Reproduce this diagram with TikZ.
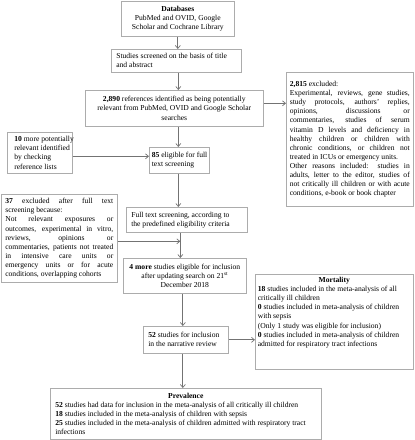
\documentclass[tikz,border=0pt]{standalone}
\usepackage{fontspec}
\setmainfont{Liberation Serif}
\usetikzlibrary{arrows.meta,shadows}
\tikzset{
  box/.style={draw=gray!65, fill=white, line width=0.6pt, inner xsep=5pt, inner ysep=0pt, anchor=north west,
    drop shadow={shadow xshift=0.8pt, shadow yshift=-0.8pt, fill=gray!35}},
  arr/.style={draw=gray!90!black, line width=0.7pt, -{Straight Barb[length=3pt,width=5pt]}},
}
\newcommand\txt{\fontsize{7.6}{9.1}\selectfont\hyphenpenalty=10000\exhyphenpenalty=10000\hbadness=10000\hfuzz=6pt}
\newcommand\pb[4]{\parbox[c][#1pt][#2]{#3pt}{\txt #4}}
\newcommand\jl{\linebreak}
\begin{document}
\begin{tikzpicture}[x=1pt,y=1pt]
\useasboundingbox (0,0) rectangle (415,-440);
\node[box] (db) at (121,-0.5) {\pb{35.5}{c}{103}{\centering\textbf{Databases}\\PubMed and OVID, Google\\Scholar and Cochrane Library}};
\node[box] (scr) at (111,-49) {\pb{23}{c}{120}{\raggedright Studies screened on the basis of title\\and abstract}};
\node[box] (ref) at (85,-90) {\pb{36}{c}{168}{\centering\textbf{2,890} references identified as being potentially\\relevant from PubMed, OVID and Google Scholar\\searches}};
\node[box, inner xsep=3.5pt] (exc) at (286,-72) {\pb{134}{c}{120}{\spaceskip=0.25em plus 2em minus 0.1em\textbf{2,815} excluded:\\
Experimental, reviews, gene studies,\jl study protocols, authors' replies,\jl opinions, discussions or\jl commentaries, studies of serum\jl vitamin D levels and deficiency in\jl healthy children or children with\jl chronic conditions, or children not\jl treated in ICUs or emergency units.\\
Other reasons included: studies in\jl adults, letter to the editor, studies of\jl not critically ill children or with acute\jl conditions, e-book or book chapter}};
\node[box, inner xsep=0pt] (ten) at (7,-132) {\pb{41}{c}{65}{\raggedright
\mbox{\hspace{7pt}\textbf{10} more potentially}\\
\mbox{\hspace{7pt}relevant identified}\\
\mbox{\hspace{7pt}by checking}\\
\mbox{\hspace{7pt}reference lists}}};
\node[box, inner xsep=2.5pt] (e85) at (149,-147) {\pb{26}{c}{55}{\raggedright\mbox{\textbf{85} eligible for full}\\text screening}};
\node[box, inner xsep=4pt] (ex37) at (1,-194) {\pb{88}{c}{108}{\spaceskip=0.25em plus 2em minus 0.1em\textbf{37} excluded after full text\jl screening because:\\
Not relevant exposures or\jl outcomes, experimental in vitro,\jl reviews, opinions or\jl commentaries, patients not treated\jl in intensive care units or\jl emergency units or for acute\jl conditions, overlapping cohorts}};
\node[box] (full) at (126,-207) {\pb{25}{c}{111}{\raggedright Full text screening, according to\\the predefined eligibility criteria}};
\node[box] (four) at (123,-258) {\pb{35}{c}{113}{\centering\textbf{4 more} studies eligible for inclusion\\after updating search on 21\textsuperscript{st}\\December 2018}};
\node[box] (f52) at (143,-326) {\pb{27}{c}{75}{\raggedright\textbf{52} studies for inclusion\\in the narrative review}};
\node[box, inner xsep=2.5pt] (mort) at (255,-274) {\pb{95}{t}{153}{\vspace{3pt}\raggedright\centerline{\textbf{Mortality}}
\textbf{18} studies included in the meta-analysis of all\\critically ill children\\
\textbf{0} studies included in meta-analysis of children\\with sepsis\\
(Only 1 study was eligible for inclusion)\\
\textbf{0} studies included in meta-analysis of children\\admitted for respiratory tract infections}};
\node[box] (prev) at (50,-388) {\pb{51}{c}{261}{\raggedright\centerline{\textbf{Prevalence}}
\textbf{52} studies had data for inclusion in the meta-analysis of all critically ill children\\
\textbf{18} studies included in the meta-analysis of children with sepsis\\
\textbf{25} studies included in the meta-analysis of children admitted with respiratory tract\\infections}};
% connectors
\draw[arr] (db.south) -- (db.south |- scr.north);
\draw[arr] ([xshift=2pt]scr.south) -- ([xshift=2pt]scr.south |- ref.north);
\draw[arr] ([yshift=5pt]ref.east) -- ([yshift=5pt]ref.east -| exc.west);
\draw[arr] ([xshift=4pt]ref.south) -- ([xshift=4pt]ref.south |- e85.north);
\draw[arr] ([yshift=-3.5pt]ten.east) -- ([yshift=-3.5pt]ten.east -| e85.west);
\draw[arr] ([xshift=-1pt]e85.south) -- ([xshift=-1pt]e85.south |- full.north);
\coordinate (ax) at ([xshift=-6.5pt]full.south);
\draw[arr] (ax) -- (ax |- four.north);
\draw[arr] ([yshift=-3pt]ex37.east) -- ([yshift=-3pt]ex37.east -| ax);
\draw[arr] ([xshift=-2pt]four.south) -- ([xshift=-2pt]four.south |- f52.north);
\draw[arr] (f52.east) -- (f52.east -| mort.west);
\draw[arr] ([xshift=-3pt]f52.south) -- ([xshift=-3pt]f52.south |- prev.north);
\end{tikzpicture}
\end{document}
